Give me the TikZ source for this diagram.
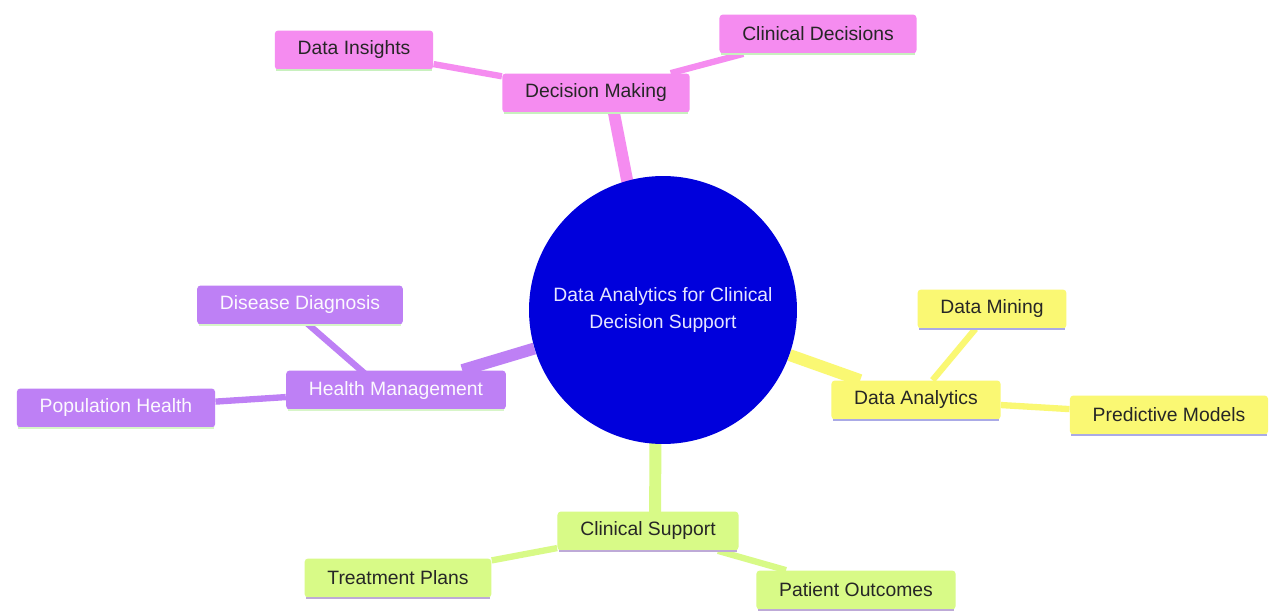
\documentclass[tikz,border=0pt]{standalone}
\usepackage{fontspec}
\setmainfont{Liberation Sans}
\usetikzlibrary{positioning}
\usetikzlibrary{backgrounds}

\definecolor{rootblue}{RGB}{0,0,220}
\definecolor{pinkbox}{RGB}{245,140,240}
\definecolor{purplebox}{RGB}{190,128,245}
\definecolor{yellowbox}{RGB}{250,248,115}
\definecolor{greenbox}{RGB}{216,250,135}
\definecolor{pinkline}{RGB}{200,240,190}
\definecolor{purpleline}{RGB}{215,245,200}
\definecolor{yellowline}{RGB}{170,170,230}
\definecolor{greenline}{RGB}{190,170,215}

\begin{document}
\begin{tikzpicture}[
  x=0.02cm, y=-0.02cm,
  box/.style={rounded corners=2pt,inner xsep=13pt,minimum height=0.78cm,
    font=\fontsize{11}{13}\selectfont},
  dmnode/.style={box,fill=pinkbox,text=black!85},
  hmnode/.style={box,fill=purplebox,text=white!95!purplebox},
  danode/.style={box,fill=yellowbox,text=black!85},
  csnode/.style={box,fill=greenbox,text=black!85},
  branch/.style={line width=6.8pt},
  twig/.style={line width=3.6pt}
]

\node[circle,fill=rootblue,minimum size=5.36cm,align=center,text=white!90!blue,
  font=\fontsize{11}{15}\selectfont] (root) at (663,310)
  {Data Analytics for Clinical\\Decision Support};

\node[dmnode] (dm) at (596,93) {Decision Making};
\node[dmnode] (di) at (354,50) {Data Insights};
\node[dmnode] (cd) at (818,34) {Clinical Decisions};

\node[hmnode] (hm) at (396,390) {Health Management};
\node[hmnode] (dd) at (300,305) {Disease Diagnosis};
\node[hmnode] (ph) at (116,408) {Population Health};

\node[danode] (da) at (916,400) {Data Analytics};
\node[danode] (dmi) at (992,309) {Data Mining};
\node[danode] (pm) at (1169,415) {Predictive Models};

\node[csnode] (cs) at (648,531) {Clinical Support};
\node[csnode] (tp) at (398,578) {Treatment Plans};
\node[csnode] (po) at (856,590) {Patient Outcomes};

% bottom edges of the boxes
\foreach \n/\c in {dm/pinkline,di/pinkline,cd/pinkline,
  hm/purpleline,dd/purpleline,ph/purpleline,
  da/yellowline,dmi/yellowline,pm/yellowline,
  cs/greenline,tp/greenline,po/greenline}
  \draw[\c,line width=1.2pt] ([xshift=1pt]\n.south west) -- ([xshift=-1pt]\n.south east);

\begin{pgfonlayer}{background}
\fill[white] (0,0) rectangle (1269,612);
\draw[pinkbox,branch] ([xshift=-6pt]root.center) -- ([xshift=8pt]dm.center);
\draw[pinkbox,twig] (dm) -- (di);
\draw[pinkbox,twig] (dm) -- (cd);
\draw[purplebox,branch] (root) -- (hm);
\draw[purplebox,twig] ([xshift=-7pt]hm.center) -- ([xshift=-8pt]dd.center);
\draw[purplebox,twig] (hm) -- (ph);
\draw[yellowbox,branch] (root) -- (da);
\draw[yellowbox,twig] (da) -- (dmi);
\draw[yellowbox,twig] (da) -- (pm);
\draw[greenbox,branch] ([xshift=-4pt]root.center) -- ([xshift=4pt]cs.center);
\draw[greenbox,twig] (cs) -- (tp);
\draw[greenbox,twig] (cs) -- (po);
\end{pgfonlayer}

\useasboundingbox (0,0) rectangle (1269,612);
\end{tikzpicture}
\end{document}
